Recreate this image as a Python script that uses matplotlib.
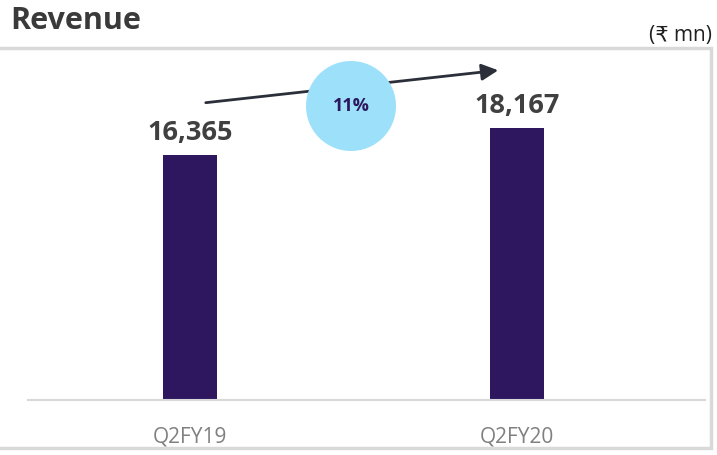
import matplotlib
matplotlib.use("Agg")
import matplotlib.pyplot as plt
from matplotlib.patches import Rectangle, Ellipse, FancyArrowPatch

categories = ["Q2FY19", "Q2FY20"]
revenue = [16365, 18167]
value_labels = ["16,365", "18,167"]
growth_label = "11%"

W, H = 717, 455
fig = plt.figure(figsize=(W / 100, H / 100), dpi=100)
fig.patch.set_facecolor("white")

def fx(px):
    return px / W

def fy(py):
    return 1 - py / H

# outer frame
fig.patches.append(Rectangle((fx(-2), fy(448)), fx(713), 400 / H, transform=fig.transFigure,
                             fill=False, edgecolor="#d9d9d9", linewidth=2.5))

ax = fig.add_axes([fx(28), fy(400), fx(705 - 28), (400 - 60) / H])
ax.bar(range(len(categories)), revenue, width=0.165, color="#2e175f")
ax.set_xlim(-0.495, 1.575)
ax.set_ylim(0, 22700)
ax.set_yticks([])
ax.set_xticks(range(len(categories)))
ax.set_xticklabels(categories, color="#808080", fontsize=15, family=["Open Sans", "DejaVu Sans"])
ax.tick_params(axis="x", length=0, pad=19)
for s in ["top", "right", "left"]:
    ax.spines[s].set_visible(False)
ax.spines["bottom"].set_color("#d9d9d9")
ax.spines["bottom"].set_linewidth(1.5)
ax.patch.set_alpha(0)

for i, v in enumerate(revenue):
    ax.text(i, v + 600, value_labels[i], ha="center", va="bottom", fontsize=19.5,
            fontweight="bold", color="#404040", family=["Open Sans", "DejaVu Sans"])

# growth arrow and bubble
arrow = FancyArrowPatch((fx(203), fy(103)), (fx(501), fy(70)), transform=fig.transFigure,
                        arrowstyle="-|>,head_length=10,head_width=5", color="#2b2f3a",
                        linewidth=2, mutation_scale=1)
fig.patches.append(arrow)
fig.patches.append(Ellipse((fx(351), fy(106)), 90 / W, 90 / H, transform=fig.transFigure,
                           facecolor="#9de0fa", edgecolor="none", zorder=5))
fig.text(fx(351), fy(106), growth_label, ha="center", va="center", fontsize=13,
         fontweight="bold", color="#2e175f", family=["Open Sans", "DejaVu Sans"], zorder=6)

fig.text(fx(10), fy(21), "Revenue", ha="left", va="center", fontsize=22, fontweight="bold",
         color="#3a3a3a", family=["Open Sans", "DejaVu Sans"])
fig.text(fx(712), fy(35), "(₹ mn)", ha="right", va="center", fontsize=15,
         color="#202020", family=["Open Sans", "DejaVu Sans"])

fig.savefig("out.png", dpi=100)
